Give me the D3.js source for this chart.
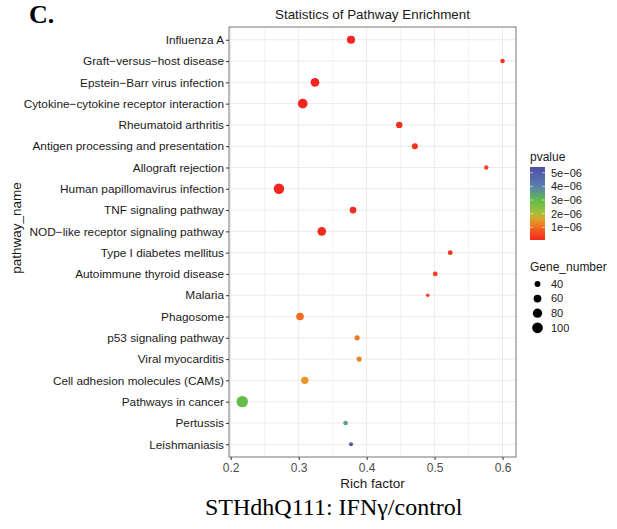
<!DOCTYPE html>
<html>
<head>
<meta charset="utf-8">
<script src="https://cdn.jsdelivr.net/npm/d3@7"></script>
<style>
  body { margin: 0; background: #fff; }
  svg { display: block; }
</style>
</head>
<body>
<div class="chart"></div>
<script>
// pathway names, top to bottom
var pathways = [
  "Influenza A",
  "Graft\u2212versus\u2212host disease",
  "Epstein\u2212Barr virus infection",
  "Cytokine\u2212cytokine receptor interaction",
  "Rheumatoid arthritis",
  "Antigen processing and presentation",
  "Allograft rejection",
  "Human papillomavirus infection",
  "TNF signaling pathway",
  "NOD\u2212like receptor signaling pathway",
  "Type I diabetes mellitus",
  "Autoimmune thyroid disease",
  "Malaria",
  "Phagosome",
  "p53 signaling pathway",
  "Viral myocarditis",
  "Cell adhesion molecules (CAMs)",
  "Pathways in cancer",
  "Pertussis",
  "Leishmaniasis"
];
var richFactor = [0.377, 0.600, 0.324, 0.306, 0.448, 0.471, 0.576, 0.271, 0.380, 0.334,
                  0.523, 0.501, 0.490, 0.302, 0.386, 0.389, 0.309, 0.217, 0.369, 0.377];
var geneNumber = [64, 30, 72, 85, 45, 42, 29, 96, 48, 70,
                  32, 32, 24, 58, 35, 34, 55, 112, 30, 27];
var pvalue = [2e-8, 3e-7, 5e-8, 1e-8, 2e-7, 2.5e-7, 4e-7, 1e-8, 1.5e-7, 1e-7,
              3e-7, 4e-7, 4.5e-7, 1.0e-6, 1.15e-6, 1.3e-6, 1.5e-6, 2.9e-6, 3.4e-6, 5.0e-6];

var xTicks = [0.2, 0.3, 0.4, 0.5, 0.6];
var pTicks = [1e-6, 2e-6, 3e-6, 4e-6, 5e-6];
var sizeTicks = [40, 60, 80, 100];

var width = 617, height = 529;
var panel = {left: 229, right: 516, top: 27, bottom: 457};

var svg = d3.select('.chart').append('svg')
  .attr('width', width).attr('height', height)
  .style('font-family', '"Liberation Sans", Arial, sans-serif');

var data = pathways.map(function(d, i) {
  return {name: d, rich: richFactor[i], genes: geneNumber[i], p: pvalue[i]};
});

var x = d3.scaleLinear().domain([0.1975, 0.6198]).range([panel.left, panel.right]);
var y = d3.scalePoint().domain(pathways).range([panel.top, panel.bottom]).padding(0.6);

var pMin = 7e-8, pMax = 5.42e-6;
var color = d3.scaleLinear()
  .domain([pMin, 1e-6, 1.6e-6, 2e-6, 3e-6, 4e-6, pMax])
  .range(["#f3261f", "#f06c1f", "#e3a02a", "#a8be38", "#5dbd4b", "#5a7fb0", "#4f4da8"])
  .clamp(true);

var size = d3.scaleRadial().domain([24, 112]).range([1.8, 5.7]);

// grid
var grid = svg.append('g');
d3.range(0.2, 0.61, 0.05).forEach(function(v, i) {
  grid.append('line')
    .attr('x1', x(v)).attr('x2', x(v))
    .attr('y1', panel.top).attr('y2', panel.bottom)
    .attr('stroke', '#ebebeb')
    .attr('stroke-width', i % 2 == 0 ? 1 : 0.6);
});
pathways.forEach(function(p) {
  grid.append('line')
    .attr('x1', panel.left).attr('x2', panel.right)
    .attr('y1', y(p)).attr('y2', y(p))
    .attr('stroke', '#ebebeb').attr('stroke-width', 1);
});

// points
svg.selectAll('circle.pt')
  .data(data)
  .enter()
  .append('circle')
  .attr('class', 'pt')
  .attr('cx', function(d) { return x(d.rich); })
  .attr('cy', function(d) { return y(d.name); })
  .attr('r', function(d) { return size(d.genes); })
  .attr('fill', function(d) { return color(d.p); });

// panel border
svg.append('rect')
  .attr('x', panel.left).attr('y', panel.top)
  .attr('width', panel.right - panel.left).attr('height', panel.bottom - panel.top)
  .attr('fill', 'none').attr('stroke', '#777').attr('stroke-width', 1);

// axes
var xAxis = svg.append('g')
  .attr('transform', 'translate(0,' + panel.bottom + ')')
  .call(d3.axisBottom(x).tickValues(xTicks).tickSize(3).tickFormat(d3.format('.1f')));
var yAxis = svg.append('g')
  .attr('transform', 'translate(' + panel.left + ',0)')
  .call(d3.axisLeft(y).tickSize(3).tickPadding(2));
[xAxis, yAxis].forEach(function(a) {
  a.select('.domain').remove();
  a.selectAll('.tick line').attr('stroke', '#333');
  a.selectAll('text').attr('fill', '#1a1a1a').style('font-size', '11.8px')
    .style('font-family', '"Liberation Sans", Arial, sans-serif');
});
xAxis.selectAll('text').attr('fill', '#4d4d4d').style('font-size', '12px');

// titles
svg.append('text')
  .attr('x', (panel.left + panel.right) / 2).attr('y', 19)
  .attr('text-anchor', 'middle').style('font-size', '13.4px').attr('fill', '#1a1a1a')
  .text('Statistics of Pathway Enrichment');

svg.append('text')
  .attr('x', (panel.left + panel.right) / 2).attr('y', 488)
  .attr('text-anchor', 'middle').style('font-size', '13.5px').attr('fill', '#1a1a1a')
  .text('Rich factor');

svg.append('text')
  .attr('transform', 'translate(21,' + 228 + ') rotate(-90)')
  .attr('text-anchor', 'middle').style('font-size', '13.5px').attr('fill', '#1a1a1a')
  .text('pathway_name');

svg.append('text')
  .attr('x', 29).attr('y', 23)
  .style('font-family', '"Liberation Serif", "Times New Roman", serif')
  .style('font-size', '26px').style('font-weight', 'bold')
  .text('C.');

svg.append('text')
  .attr('x', 205).attr('y', 515)
  .style('font-family', '"Liberation Serif", "Times New Roman", serif')
  .style('font-size', '24px')
  .text('STHdhQ111: IFN\u03b3/control');

// pvalue legend
var leg = svg.append('g');
leg.append('text').attr('x', 530).attr('y', 161).style('font-size', '12px').attr('fill', '#1a1a1a').text('pvalue');

var barTop = 167, barBottom = 240, barX = 530, barW = 15;
var pY = d3.scaleLinear().domain([pMin, pMax]).range([barBottom, barTop]);
var defs = svg.append('defs');
var grad = defs.append('linearGradient').attr('id', 'pgrad')
  .attr('x1', 0).attr('y1', 1).attr('x2', 0).attr('y2', 0);
d3.range(0, 1.0001, 0.05).forEach(function(t) {
  grad.append('stop').attr('offset', t)
    .attr('stop-color', color(pMin + t * (pMax - pMin)));
});
leg.append('rect').attr('x', barX).attr('y', barTop)
  .attr('width', barW).attr('height', barBottom - barTop)
  .attr('fill', 'url(#pgrad)');
pTicks.forEach(function(v) {
  leg.append('line').attr('x1', barX).attr('x2', barX + 3)
    .attr('y1', pY(v)).attr('y2', pY(v)).attr('stroke', '#fff').attr('stroke-width', 0.6);
  leg.append('line').attr('x1', barX + barW - 3).attr('x2', barX + barW)
    .attr('y1', pY(v)).attr('y2', pY(v)).attr('stroke', '#fff').attr('stroke-width', 0.6);
  leg.append('text').attr('x', 551).attr('y', pY(v)).attr('dy', '0.35em')
    .style('font-size', '11px').attr('fill', '#1a1a1a')
    .text(d3.format('.0e')(v).replace('e-', 'e\u22120'));
});

// size legend
leg.append('text').attr('x', 530).attr('y', 271).style('font-size', '12px').attr('fill', '#1a1a1a').text('Gene_number');
sizeTicks.forEach(function(v, i) {
  var cy = 284 + i * 14.6;
  leg.append('circle').attr('cx', 537.5).attr('cy', cy).attr('r', size(v)).attr('fill', '#000');
  leg.append('text').attr('x', 551).attr('y', cy).attr('dy', '0.35em')
    .style('font-size', '11px').attr('fill', '#1a1a1a').text(v);
});
</script>
</body>
</html>
